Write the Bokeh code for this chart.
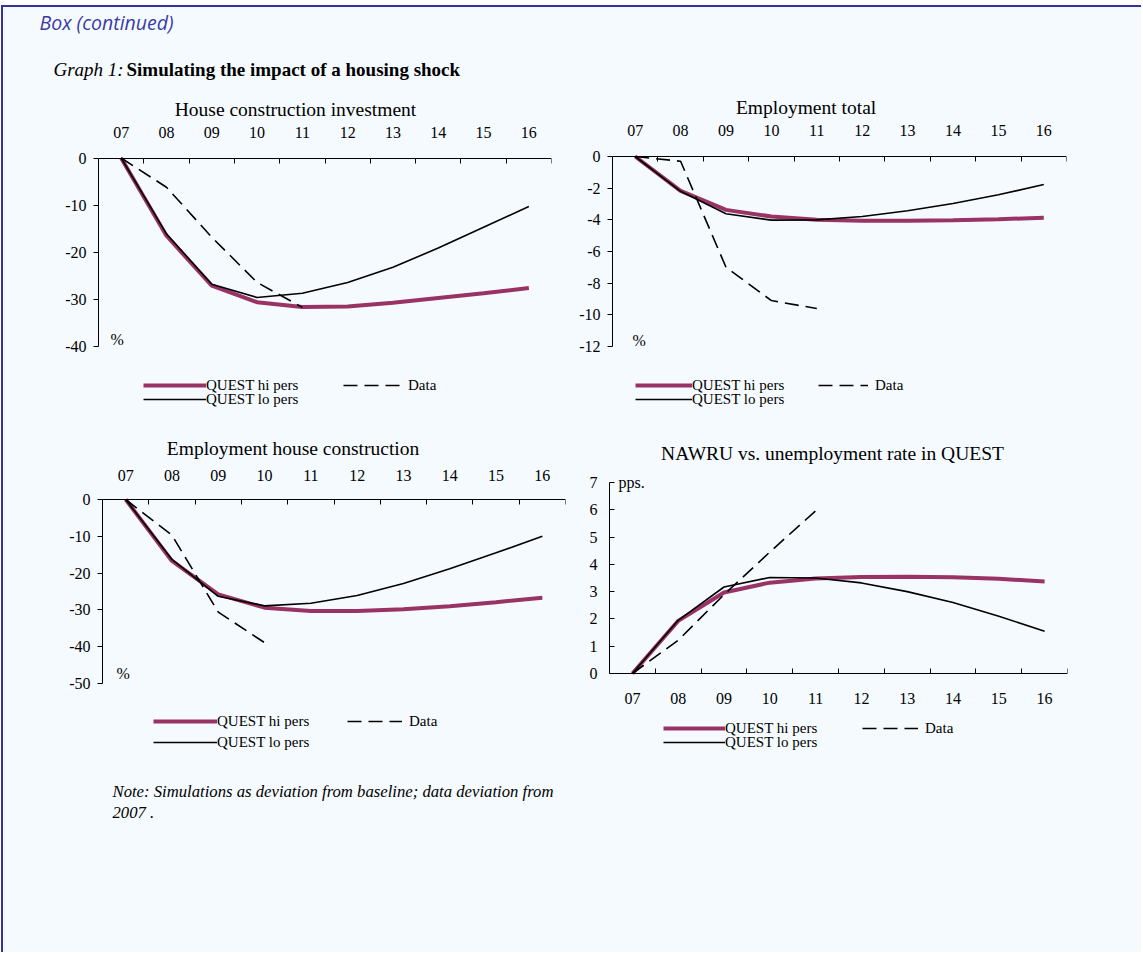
from bokeh.plotting import figure
from bokeh.models import Range1d, FixedTicker, LinearAxis, Legend, LegendItem, Label
from bokeh.layouts import column, row
from bokeh.embed import file_html
from bokeh.resources import INLINE

# ---------------- data ----------------
YEARS = ["07", "08", "09", "10", "11", "12", "13", "14", "15", "16"]

HCI_HI = [0, -16.5, -27.1, -30.6, -31.6, -31.5, -30.7, -29.7, -28.7, -27.6]
HCI_LO = [0, -16.1, -26.8, -29.6, -28.7, -26.4, -23.2, -19.1, -14.7, -10.3]
HCI_DATA = [0, -6.2, -16.8, -26.4, -31.7]

EMP_HI = [0, -2.17, -3.37, -3.79, -4.0, -4.06, -4.06, -4.02, -3.96, -3.87]
EMP_LO = [0, -2.2, -3.62, -4.02, -4.0, -3.79, -3.43, -2.97, -2.42, -1.77]
EMP_DATA = [0, -0.3, -7.0, -9.1, -9.6]

EHC_HI = [0, -16.7, -25.8, -29.4, -30.3, -30.3, -29.8, -29.0, -27.9, -26.7]
EHC_LO = [0, -16.3, -26.3, -28.9, -28.2, -26.1, -22.8, -18.8, -14.5, -10.0]
EHC_DATA = [0, -9.7, -30.6, -38.9]

NAW_HI = [0, 1.93, 2.97, 3.33, 3.48, 3.54, 3.55, 3.53, 3.47, 3.37]
NAW_LO = [0, 1.95, 3.17, 3.52, 3.50, 3.32, 3.0, 2.6, 2.1, 1.55]
NAW_DATA = [0, 1.22, 2.89, 4.45, 5.96]

SERIES_NAMES = ["QUEST hi pers", "QUEST lo pers", "Data"]

# ---------------- style ----------------
BG = "#F5FAFE"
BORDER = "#333399"
MAROON = "#993366"
SERIF = "Liberation Serif"
ROW_HALF = 8.5   # half height of one legend row (px)


def xpos(n):
    return [i + 0.5 for i in range(n)]


def style_axis(ax):
    ax.major_label_text_font = SERIF
    ax.major_label_text_font_size = "16px"
    ax.major_label_text_color = "black"
    ax.axis_line_color = "black"
    ax.major_tick_line_color = "black"
    ax.minor_tick_line_color = "black"


def panel(title, hi, lo, data, yticks, unit, geo, xaxis_loc, x_standoff, ytick_in,
          title_pos, unit_pos, leg):
    # geo: fig_left, fig_top, fig_w, fig_h, frame_left, frame_right,
    #      (value_a, pixel_a), (value_b, pixel_b)   -- page pixel layout
    fl, ft, fw, fh, xl, xr, (va, pa), (vb, pb) = geo
    ppu = (pb - pa) / (va - vb)                     # pixels per unit
    y_top = va + (pa - ft) / ppu
    y_bot = va - (ft + fh - pa) / ppu
    nx = len(YEARS)

    def dx(px):
        return (px - xl) / (xr - xl) * nx

    def dy(py):
        return va - (py - pa) / ppu

    p = figure(width=fw, height=fh, x_range=Range1d(0, nx),
               y_range=Range1d(y_bot, y_top), x_axis_type=None, y_axis_type=None,
               output_backend="svg", toolbar_location=None, title=None,
               min_border_left=xl - fl, min_border_right=fl + fw - xr,
               min_border_top=0, min_border_bottom=0,
               background_fill_color=BG, border_fill_color=BG,
               outline_line_color=None)

    # x axis: labels at category centres, tick marks at category boundaries
    xa = LinearAxis(fixed_location=0, bounds=(0, nx),
                    ticker=FixedTicker(ticks=xpos(nx), minor_ticks=list(range(nx + 1))),
                    major_label_overrides={x: y for x, y in zip(xpos(nx), YEARS)})
    style_axis(xa)
    xa.major_tick_in = 0
    xa.major_tick_out = 0
    xa.minor_tick_in = 5
    xa.minor_tick_out = 0
    xa.major_label_standoff = x_standoff
    p.add_layout(xa, xaxis_loc)

    ya = LinearAxis(ticker=FixedTicker(ticks=yticks), bounds=(min(yticks), max(yticks)),
                    major_label_overrides={t: str(t) for t in yticks})
    style_axis(ya)
    if ytick_in:
        ya.major_tick_in = 5
        ya.major_tick_out = 0
        ya.major_label_standoff = 12
    else:
        ya.major_tick_in = 0
        ya.major_tick_out = 5
        ya.major_label_standoff = 7
    ya.minor_tick_in = 0
    ya.minor_tick_out = 0
    p.add_layout(ya, "left")

    r_hi = p.line(xpos(len(hi)), hi, line_color=MAROON, line_width=4)
    r_lo = p.line(xpos(len(lo)), lo, line_color="black", line_width=1.6)
    r_da = p.line(xpos(len(data)), data, line_color="black", line_width=1.6,
                  line_dash="14 7")

    p.add_layout(Label(x=dx(title_pos[0]), y=dy(title_pos[1]), text=title,
                       text_font=SERIF, text_font_size="19.5px", text_align="center",
                       text_baseline="middle", text_color="black"))
    p.add_layout(Label(x=dx(unit_pos[0]), y=dy(unit_pos[1]), text=unit, text_font=SERIF,
                       text_font_size="16px", text_baseline="middle",
                       text_color="black"))

    common = dict(background_fill_alpha=0, border_line_alpha=0, padding=0,
                  margin=0, label_text_font=SERIF, label_text_font_size="15px",
                  label_text_color="black", glyph_height=14, label_height=14)
    fb = ft + fh
    # leg: one (left pixel, row-centre pixel, glyph width, standoff) per series
    for name, rend, (lx, ly, gw, so) in zip(SERIES_NAMES, [r_hi, r_lo, r_da], leg):
        p.add_layout(Legend(items=[LegendItem(label=name, renderers=[rend])],
                            location=(lx - xl, fb - (ly + ROW_HALF)), glyph_width=gw,
                            label_standoff=so, **common))
    return p


p1 = panel("House construction investment", HCI_HI, HCI_LO, HCI_DATA,
           [0, -10, -20, -30, -40], "%",
           (3, 85, 562, 335, 98, 551, (0, 157.5), (-40, 346)), "above", 20, False,
           (295, 109), (110, 339),
           [(143, 385, 63, 0), (143, 399, 63, 0), (343, 385, 58, 7)])
p2 = panel("Employment  total", EMP_HI, EMP_LO, EMP_DATA,
           [0, -2, -4, -6, -8, -10, -12], "%",
           (565, 85, 576, 335, 612, 1066, (0, 156), (-12, 346)), "above", 21, False,
           (808, 107), (632, 340),
           [(635, 385, 57, 0), (635, 399, 57, 0), (818, 385, 50, 7)])
p3 = panel("Employment  house construction", EHC_HI, EHC_LO, EHC_DATA,
           [0, -10, -20, -30, -40, -50], "%",
           (3, 420, 567, 350, 102, 565, (0, 499), (-50, 683)), "above", 19, False,
           (295, 448), (116, 673),
           [(153, 721, 64, 0), (153, 742, 64, 0), (347, 721, 55, 7)])
p4 = panel("NAWRU vs. unemployment rate in QUEST", NAW_HI, NAW_LO, NAW_DATA,
           [0, 1, 2, 3, 4, 5, 6, 7], "pps.",
           (570, 420, 571, 350, 609, 1067, (7, 482), (0, 673)), "below", 19, True,
           (832, 453), (618, 482),
           [(663, 728, 62, 0), (663, 742, 62, 0), (862, 728, 56, 7)])

# header
hdr = figure(width=1138, height=78, x_range=Range1d(0, 1138), y_range=Range1d(78, 0),
             x_axis_type=None, y_axis_type=None, min_border=0,
             output_backend="svg", toolbar_location=None,
             background_fill_color=BG, border_fill_color=BG, outline_line_color=None)
hdr.add_layout(Label(x=36, y=15, text="Box (continued)", text_font="Open Sans",
                     text_font_size="19.5px", text_font_style="italic",
                     text_color="#3B3BA8", text_baseline="middle"))
hdr.add_layout(Label(x=50, y=62, text="Graph 1:", text_font=SERIF,
                     text_font_size="19px", text_font_style="italic",
                     text_color="black", text_baseline="middle"))
hdr.add_layout(Label(x=123, y=62, text="Simulating the impact of a housing shock",
                     text_font=SERIF, text_font_size="19px", text_font_style="bold",
                     text_color="black", text_baseline="middle"))

# note
note = figure(width=1138, height=182, x_range=Range1d(0, 1138), y_range=Range1d(182, 0),
              x_axis_type=None, y_axis_type=None, min_border=0,
              output_backend="svg", toolbar_location=None,
              background_fill_color=BG, border_fill_color=BG, outline_line_color=None)
note.add_layout(Label(x=109, y=21, text="Note: Simulations as deviation from baseline; data deviation from",
                      text_font=SERIF, text_font_size="16.7px", text_font_style="italic",
                      text_color="black", text_baseline="middle"))
note.add_layout(Label(x=109, y=42, text="2007 .", text_font=SERIF, text_font_size="16.7px",
                      text_font_style="italic", text_color="black", text_baseline="middle"))

layout = column(hdr, row(p1, p2), row(p3, p4), note,
                styles={"border-left": "2px solid " + BORDER,
                        "border-top": "2px solid " + BORDER,
                        "background-color": BG,
                        "margin-left": "1px", "margin-top": "5px"})

open("out.html", "w").write(file_html(layout, INLINE))
